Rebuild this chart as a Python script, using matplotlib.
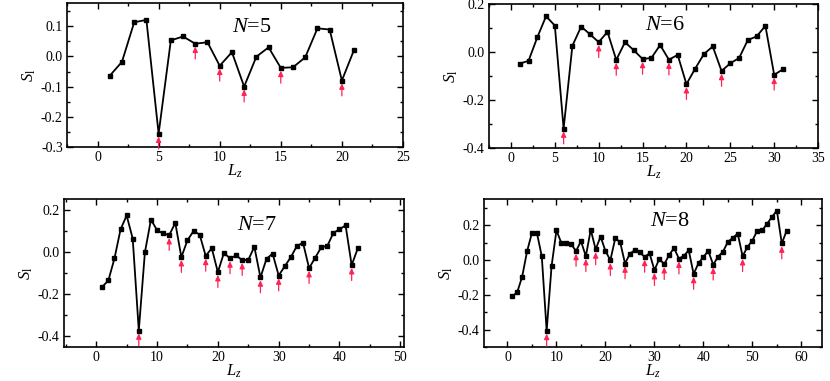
import matplotlib
matplotlib.use("Agg")
import matplotlib.pyplot as plt
from matplotlib.ticker import MultipleLocator, FormatStrFormatter

plt.rcParams['font.family'] = ['Liberation Serif', 'DejaVu Serif']
plt.rcParams['mathtext.fontset'] = 'custom'
plt.rcParams['mathtext.rm'] = 'Liberation Serif'
plt.rcParams['mathtext.it'] = 'Liberation Serif:italic'
plt.rcParams['axes.unicode_minus'] = False

# ---------------- data ----------------
lz5 = list(range(1, 22))
s5 = [-0.064, -0.018, 0.113, 0.121, -0.256, 0.053, 0.066, 0.042, 0.047, -0.031,
      0.014, -0.100, -0.001, 0.030, -0.038, -0.036, -0.003, 0.093, 0.089, -0.080, 0.022]
arrows5 = [5, 8, 10, 12, 15, 20]

lz6 = list(range(1, 32))
s6 = [-0.048, -0.037, 0.061, 0.149, 0.110, -0.319, 0.026, 0.106, 0.074, 0.041,
      0.084, -0.033, 0.041, 0.007, -0.029, -0.025, 0.029, -0.032, -0.012, -0.134,
      -0.069, -0.008, 0.023, -0.079, -0.047, -0.025, 0.050, 0.065, 0.109, -0.095, -0.072]
arrows6 = [6, 10, 12, 15, 18, 20, 24, 30]

lz7 = list(range(1, 44))
s7 = [-0.165, -0.135, -0.031, 0.106, 0.172, 0.063, -0.372, -0.003, 0.153, 0.102,
      0.087, 0.079, 0.137, -0.025, 0.055, 0.098, 0.082, -0.019, 0.017, -0.096,
      -0.005, -0.031, -0.017, -0.039, -0.038, 0.024, -0.121, -0.033, -0.008, -0.112,
      -0.068, -0.025, 0.028, 0.043, -0.077, -0.028, 0.022, 0.028, 0.090, 0.106,
      0.126, -0.063, 0.016]
arrows7 = [7, 12, 14, 18, 20, 22, 24, 27, 30, 35, 42]

lz8 = list(range(1, 58))
s8 = [-0.208, -0.183, -0.094, 0.051, 0.158, 0.158, 0.023, -0.406, -0.034, 0.172,
      0.098, 0.096, 0.091, 0.053, 0.109, 0.023, 0.175, 0.062, 0.136, 0.053,
      0.000, 0.125, 0.104, -0.019, 0.038, 0.058, 0.045, 0.019, 0.040, -0.057,
      0.008, -0.023, 0.030, 0.070, 0.009, 0.025, 0.057, -0.079, -0.017, 0.019,
      0.053, -0.026, 0.021, 0.049, 0.106, 0.128, 0.153, 0.023, 0.077, 0.113,
      0.170, 0.172, 0.209, 0.249, 0.285, 0.096, 0.170]
arrows8 = [8, 14, 16, 18, 21, 24, 28, 30, 32, 35, 38, 42, 48, 56]

labels = ["5", "6", "7", "8"]

panels = [
    dict(x=lz5, y=s5, arr=arrows5, lab=labels[0], rect=[0.0807, 0.6142, 0.4048, 0.3780],
         xlim=(-2.5, 25), ylim=(-0.3, 0.177), xmaj=5, xmin=2.5, ymaj=0.1, ymin=0.05,
         txt=(0.55, 0.83)),
    dict(x=lz6, y=s6, arr=arrows6, lab=labels[1], rect=[0.5892, 0.6115, 0.3964, 0.3780],
         xlim=(-2.5, 35), ylim=(-0.4, 0.2), xmaj=5, xmin=2.5, ymaj=0.2, ymin=0.1,
         txt=(0.535, 0.85)),
    dict(x=lz7, y=s7, arr=arrows7, lab=labels[2], rect=[0.0771, 0.0892, 0.4096, 0.3885],
         xlim=(-5.3, 50.6), ylim=(-0.45, 0.25), xmaj=10, xmin=5, ymaj=0.2, ymin=0.1,
         txt=(0.567, 0.82)),
    dict(x=lz8, y=s8, arr=arrows8, lab=labels[3], rect=[0.5831, 0.0885, 0.4072, 0.3885],
         xlim=(-4.8, 64.2), ylim=(-0.5, 0.35), xmaj=10, xmin=5, ymaj=0.2, ymin=0.1,
         txt=(0.55, 0.85)),
]

fig = plt.figure(figsize=(8.3, 3.81), dpi=100)

for p in panels:
    ax = fig.add_axes(p['rect'])
    ax.plot(p['x'], p['y'], '-s', color='black', lw=1.3, ms=2.6, mec='black', mfc='black')
    for a in p['arr']:
        yv = p['y'][p['x'].index(a)]
        ax.annotate('', xy=(a, yv), xytext=(0, -11), textcoords='offset points',
                    xycoords='data',
                    arrowprops=dict(arrowstyle='-|>,head_length=0.32,head_width=0.15',
                                    color='#ff2255', lw=0.9, shrinkA=0, shrinkB=2))
    ax.set_xlim(*p['xlim'])
    ax.set_ylim(*p['ylim'])
    ax.xaxis.set_major_locator(MultipleLocator(p['xmaj']))
    ax.xaxis.set_minor_locator(MultipleLocator(p['xmin']))
    ax.yaxis.set_major_locator(MultipleLocator(p['ymaj']))
    ax.yaxis.set_minor_locator(MultipleLocator(p['ymin']))
    ax.yaxis.set_major_formatter(FormatStrFormatter('%.1f'))
    ax.tick_params(which='both', direction='in', top=True, right=True, labelsize=10, pad=3)
    ax.tick_params(which='major', length=4, width=1)
    ax.tick_params(which='minor', length=2.5, width=1)
    for sp in ax.spines.values():
        sp.set_linewidth(1.2)
    ax.set_xlabel(r'$L_z$', fontsize=12, labelpad=-1)
    ax.set_ylabel(r'$S_{\mathrm{l}}$', fontsize=12, labelpad=2)
    ax.text(p['txt'][0], p['txt'][1], r'$N$=' + p['lab'], transform=ax.transAxes,
            fontsize=16, ha='center', va='center')

fig.savefig('out.png', dpi=100)
